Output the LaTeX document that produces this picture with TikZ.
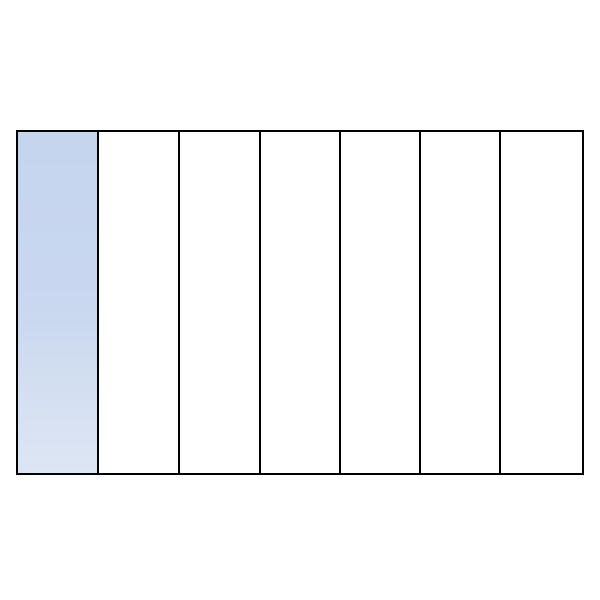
\documentclass[tikz,border=0pt]{standalone}
\usepackage{xcolor}
\definecolor{stripetop}{RGB}{197,213,238}
\definecolor{stripebottom}{RGB}{222,230,244}
\usepackage{tikz}

\begin{document}
\begin{tikzpicture}[x=0.02cm, y=-0.02cm,
	frame/.style={draw=black, line width=1.4pt},
	stripe/.style={top color=stripetop, bottom color=stripebottom, middle color=stripetop!85!stripebottom}
	]
\useasboundingbox (0,0) rectangle (600,600);
\fill[stripe] (17,131) rectangle (98,474);
\draw[frame] (17,131) rectangle (583,474);
\foreach \x in {98,179,260,340,420,500}
	\draw[frame] (\x,131) -- (\x,474);
\end{tikzpicture}
\end{document}
